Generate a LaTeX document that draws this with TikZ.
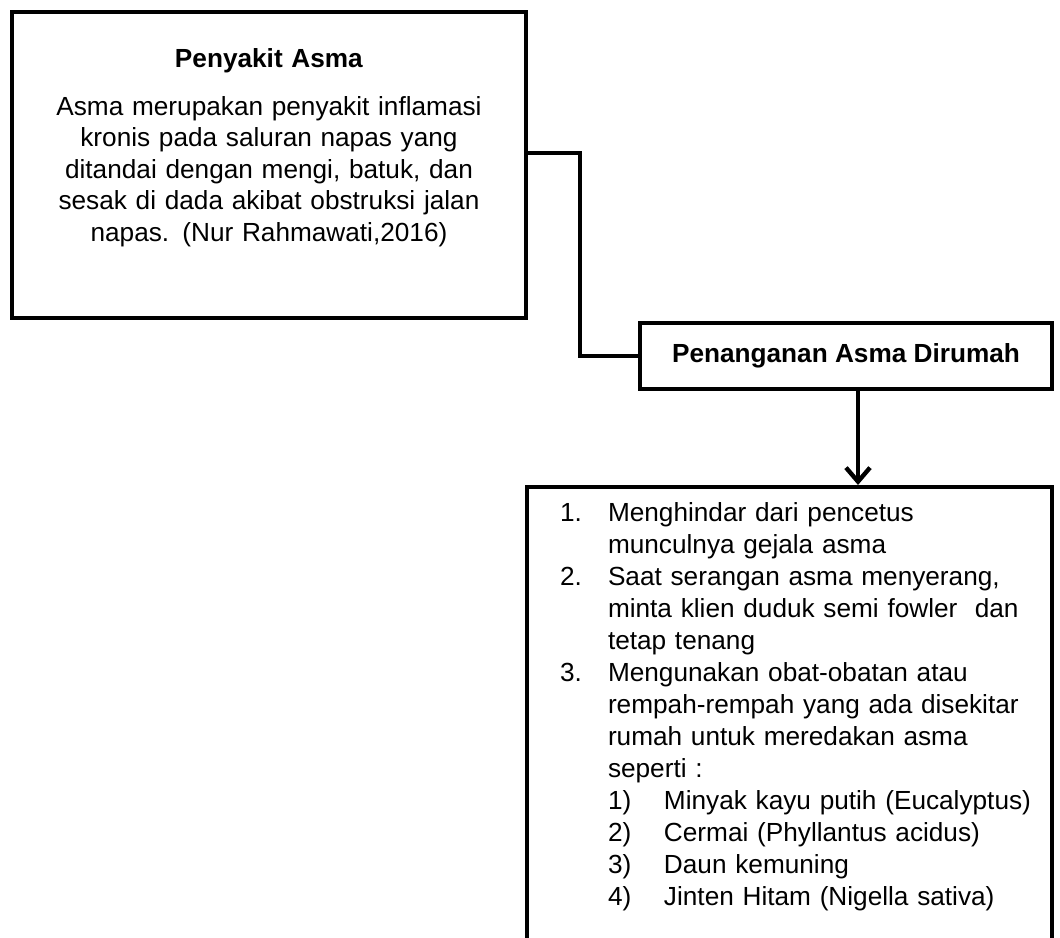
\documentclass[tikz,border=0pt]{standalone}
\usepackage{fontspec}
\setmainfont{Liberation Sans}
\usepackage{tikz}
\usetikzlibrary{arrows.meta}

\begin{document}
\begin{tikzpicture}[x=0.5pt, y=-0.5pt,
  kotak/.style={draw, rectangle, line width=2pt, anchor=north west},
  garis/.style={line width=2.2pt},
  panah/.style={line width=2.2pt, -{Straight Barb[length=7pt, width=12pt, line width=2.2pt]}}]
\def \hurufbesar {\fontsize{13.1}{15.75}\selectfont}
\def \huruflist {\fontsize{13.1}{16}\selectfont\hyphenpenalty=10000}
\def \nomor#1{\hspace*{8pt}\makebox[24pt][l]{#1}}
\def \ind {\hspace*{32pt}}
\def \sub#1{\hspace*{32pt}\makebox[28pt][l]{#1}}

\path[use as bounding box, clip] (0,0) rectangle (1060,937);

\node[kotak, text width=230pt, inner xsep=13.5pt, inner ysep=18.5pt, align=center, font=\hurufbesar] at (10,10) (asma)
  {\textbf{Penyakit Asma}\\[8pt]
   Asma merupakan penyakit inflamasi\\
   kronis pada saluran napas yang\\
   ditandai dengan mengi, batuk, dan\\
   sesak di dada akibat obstruksi jalan\\
   napas. (Nur Rahmawati,2016)\rule[-20pt]{0pt}{20pt}};

\node[kotak, minimum width=206pt, minimum height=33pt, font=\hurufbesar\bfseries] at (638,321) (penanganan)
  {Penanganan Asma Dirumah};

\node[kotak, text width=245.5pt, inner xsep=8.5pt, inner ysep=8pt, align=left, font=\huruflist] at (525,485) (langkah)
  {\nomor{1.}Menghindar dari pencetus\\
   \ind munculnya gejala asma\\
   \nomor{2.}Saat serangan asma menyerang,\\
   \ind minta klien duduk semi fowler\ \ dan\\
   \ind tetap tenang\\
   \nomor{3.}Mengunakan obat-obatan atau\\
   \ind rempah-rempah yang ada disekitar\\
   \ind rumah untuk meredakan asma\\
   \ind seperti :\\
   \sub{1)}Minyak kayu putih (Eucalyptus)\\
   \sub{2)}Cermai (Phyllantus acidus)\\
   \sub{3)}Daun kemuning\\
   \sub{4)}Jinten Hitam (Nigella sativa)\rule[-30pt]{0pt}{30pt}};

% connectors
\coordinate (belok) at (580,153);
\coordinate (turun) at (858,0);
\draw[garis] (asma.east |- belok) -- (belok) |- (penanganan.west);
\draw[panah] (penanganan.south -| turun) -- (langkah.north -| turun);

\end{tikzpicture}
\end{document}
